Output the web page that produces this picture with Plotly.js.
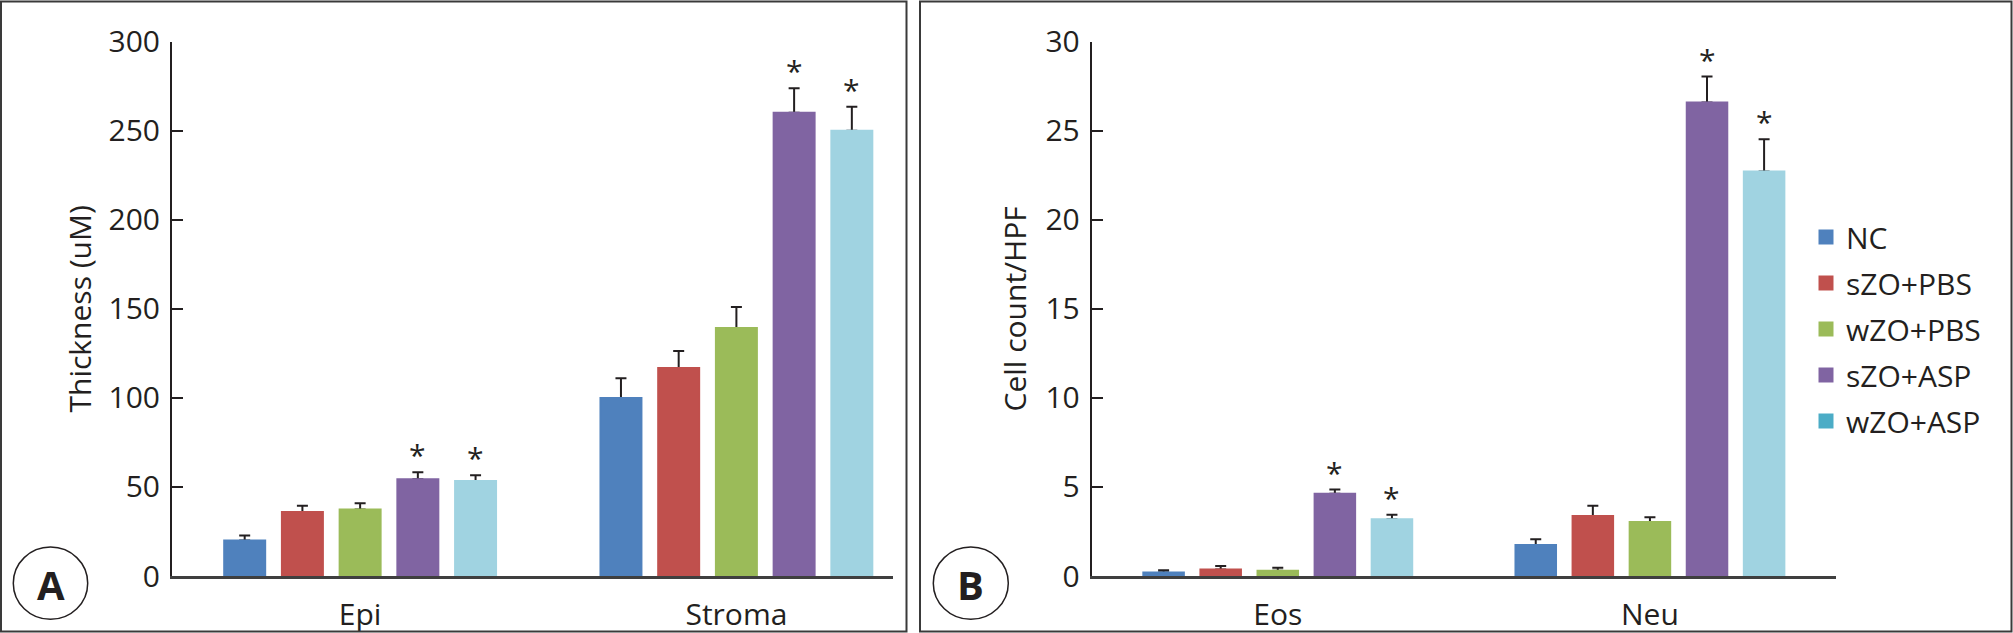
<!DOCTYPE html>
<html><head><meta charset="utf-8">
<script src="https://cdn.plot.ly/plotly-3.0.1.min.js"></script>
<style>html,body{margin:0;padding:0;background:#fff}#chart{width:2013px;height:633px}</style>
</head><body><div id="chart"></div>
<script>
// ---------- data ----------
const groups = ['NC', 'sZO+PBS', 'wZO+PBS', 'sZO+ASP', 'wZO+ASP'];

// Panel A: thickness (uM)
const catsA = ['Epi', 'Stroma'];
const thickNC     = [20.0, 99.9];
const thickSZOPBS = [35.9, 116.8];
const thickWZOPBS = [37.4, 139.2];
const thickSZOASP = [54.3, 260.1];
const thickWZOASP = [53.3, 250.0];
const thickErrNC     = [2.8, 11.1];
const thickErrSZOPBS = [3.6, 9.5];
const thickErrWZOPBS = [3.4, 11.9];
const thickErrSZOASP = [3.9, 13.7];
const thickErrWZOASP = [3.2, 13.5];
const thickSig = [[false, false], [false, false], [false, false], [true, true], [true, true]];

// Panel B: cell count / HPF
const catsB = ['Eos', 'Neu'];
const cellNC     = [0.19, 1.74];
const cellSZOPBS = [0.37, 3.37];
const cellWZOPBS = [0.30, 3.03];
const cellSZOASP = [4.62, 26.58];
const cellWZOASP = [3.18, 22.71];
const cellErrNC     = [0.13, 0.32];
const cellErrSZOPBS = [0.19, 0.57];
const cellErrWZOPBS = [0.17, 0.27];
const cellErrSZOASP = [0.23, 1.46];
const cellErrWZOASP = [0.26, 1.81];
const cellSig = [[false, false], [false, false], [false, false], [true, true], [true, true]];

const ticksA = [0, 50, 100, 150, 200, 250, 300];
const ticksB = [0, 5, 10, 15, 20, 25, 30];

// ---------- style ----------
const barColors    = ['#4F81BD', '#C0504D', '#9BBB59', '#8064A2', '#A0D3E1'];
const legendColors = ['#4F81BD', '#C0504D', '#9BBB59', '#8064A2', '#4BACC6'];
const INK = '#231f20';
const FONT = 'Open Sans, Noto Sans, sans-serif';
const FS = 30;
const W = 2013, H = 633;
const BARGAP = 0.233, BARGROUPGAP = 0.29;
const px = x => x / W;
const py = y => 1 - y / H;

const seriesA = [thickNC, thickSZOPBS, thickWZOPBS, thickSZOASP, thickWZOASP];
const errsA   = [thickErrNC, thickErrSZOPBS, thickErrWZOPBS, thickErrSZOASP, thickErrWZOASP];
const seriesB = [cellNC, cellSZOPBS, cellWZOPBS, cellSZOASP, cellWZOASP];
const errsB   = [cellErrNC, cellErrSZOPBS, cellErrWZOPBS, cellErrSZOASP, cellErrWZOASP];

const traces = [];
const annotations = [];
const slot = (1 - BARGAP) / groups.length;

function addPanel(cats, series, errs, sig, xa, ya, tag) {
  series.forEach((vals, i) => {
    // error bars (drawn first, underneath the coloured bar so only the upper whisker shows)
    traces.push({
      type: 'bar', name: groups[i] + ' SE', x: cats, y: vals,
      xaxis: xa, yaxis: ya, showlegend: false, offsetgroup: tag + i,
      marker: { color: 'rgba(0,0,0,0)', line: { width: 0 } },
      error_y: { type: 'data', symmetric: false, array: errs[i],
                 arrayminus: vals.map(() => 0), color: INK, thickness: 2, width: 5.5 },
      hoverinfo: 'skip'
    });
    traces.push({
      type: 'bar', name: groups[i], x: cats, y: vals,
      xaxis: xa, yaxis: ya, showlegend: false, offsetgroup: tag + i,
      marker: { color: barColors[i], line: { width: 2, color: barColors[i] } },
      hoverinfo: 'x+y+name'
    });
    vals.forEach((v, j) => {
      if (sig[i][j]) {
        annotations.push({
          xref: xa, yref: ya, x: j + (i - (groups.length - 1) / 2) * slot,
          y: v + errs[i][j], text: '*', showarrow: false,
          yanchor: 'bottom', yshift: -5,
          font: { family: FONT, size: 30, color: INK }
        });
      }
    });
  });
}
addPanel(catsA, seriesA, errsA, thickSig, 'x', 'y', 'a');
addPanel(catsB, seriesB, errsB, cellSig, 'x2', 'y2', 'b');

// legend entries
groups.forEach((g, i) => {
  traces.push({
    type: 'scatter', mode: 'markers', name: g, x: [catsB[0]], y: [null],
    xaxis: 'x2', yaxis: 'y2', legendgroup: 'g' + i,
    marker: { symbol: 'square', size: 15, color: legendColors[i] },
    hoverinfo: 'skip'
  });
});

// panel letters
annotations.push({ xref: 'paper', yref: 'paper', x: px(50.5), y: py(584), text: '<b>A</b>',
  showarrow: false, xanchor: 'center', yanchor: 'middle', font: { family: FONT, size: 40, color: INK } });
annotations.push({ xref: 'paper', yref: 'paper', x: px(970.8), y: py(584), text: '<b>B</b>',
  showarrow: false, xanchor: 'center', yanchor: 'middle', font: { family: FONT, size: 40, color: INK } });

const shapes = [
  { type: 'rect', xref: 'paper', yref: 'paper', x0: px(1), x1: px(906.5), y0: py(631.5), y1: py(1.5),
    line: { color: '#3a3a3a', width: 2 } },
  { type: 'rect', xref: 'paper', yref: 'paper', x0: px(920), x1: px(2011.5), y0: py(631.5), y1: py(1.5),
    line: { color: '#3a3a3a', width: 2 } },
  { type: 'circle', xref: 'paper', yref: 'paper', x0: px(13.3), x1: px(87.7), y0: py(619.3), y1: py(547),
    line: { color: INK, width: 1.5 } },
  { type: 'circle', xref: 'paper', yref: 'paper', x0: px(933.3), x1: px(1008.3), y0: py(619.3), y1: py(547),
    line: { color: INK, width: 1.5 } }
];

const yDomain = [py(576), py(41.7)];
const xBase = {
  type: 'category', showline: true, linecolor: '#3f3f3f', linewidth: 2.5, ticks: '',
  showgrid: false, zeroline: false, tickfont: { family: FONT, size: FS, color: INK },
  ticklabelstandoff: 10, fixedrange: true
};
const yBase = {
  showline: true, linecolor: INK, linewidth: 2, ticks: 'inside', ticklen: 11, tickwidth: 2,
  tickcolor: INK, showgrid: false, zeroline: false, domain: yDomain,
  tickfont: { family: FONT, size: FS, color: INK }, ticklabelstandoff: 4, fixedrange: true
};

const layout = {
  width: W, height: H, autosize: false,
  margin: { l: 0, r: 0, t: 0, b: 0, pad: 0 },
  paper_bgcolor: '#ffffff', plot_bgcolor: '#ffffff',
  font: { family: FONT, color: INK },
  barmode: 'group', bargap: BARGAP, bargroupgap: BARGROUPGAP,
  xaxis: Object.assign({}, xBase, { domain: [px(172), px(893.3)], anchor: 'y',
    categoryorder: 'array', categoryarray: catsA, range: [-0.5, 1.417] }),
  yaxis: Object.assign({}, yBase, { anchor: 'x', range: [0, 300], tickvals: ticksA,
    title: { text: 'Thickness (uM)', font: { family: FONT, size: FS, color: INK }, standoff: 8 } }),
  xaxis2: Object.assign({}, xBase, { domain: [px(1091.7), px(1836)], anchor: 'y2',
    categoryorder: 'array', categoryarray: catsB, range: [-0.5, 1.5] }),
  yaxis2: Object.assign({}, yBase, { anchor: 'x2', range: [0, 30], tickvals: ticksB,
    title: { text: 'Cell count/HPF', font: { family: FONT, size: FS, color: INK }, standoff: 10 } }),
  showlegend: true,
  legend: {
    x: px(1806), y: py(211), xanchor: 'left', yanchor: 'top',
    bgcolor: 'rgba(0,0,0,0)', borderwidth: 0,
    traceorder: 'grouped', tracegroupgap: 4,
    font: { family: FONT, size: FS, color: INK }
  },
  annotations: annotations,
  shapes: shapes
};

Plotly.newPlot('chart', traces, layout, { displayModeBar: false, staticPlot: true });
</script>
</body></html>
